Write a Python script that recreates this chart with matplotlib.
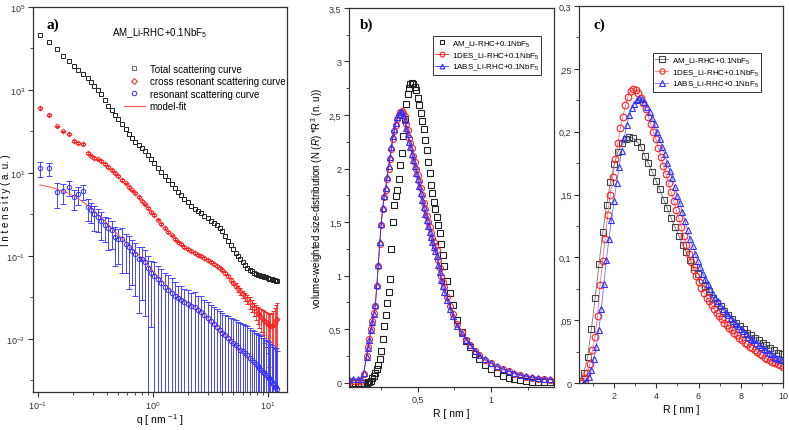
import numpy as np
import matplotlib
matplotlib.use('Agg')
import matplotlib.pyplot as plt
from matplotlib.lines import Line2D
from matplotlib.ticker import FixedLocator, FixedFormatter, MultipleLocator, NullFormatter

plt.rcParams['font.family'] = ['Liberation Sans', 'DejaVu Sans']
plt.rcParams['mathtext.fontset'] = 'custom'
plt.rcParams['mathtext.rm'] = 'Liberation Sans'
plt.rcParams['mathtext.it'] = 'Liberation Sans:italic'

##############################################################################################################################
# a) scattering curves

q_a = [0.104, 0.125, 0.145, 0.165, 0.185, 0.205, 0.225, 0.245, 0.27, 0.29,
       0.31, 0.33, 0.35, 0.38, 0.41, 0.44, 0.47, 0.5, 0.54, 0.58,
       0.62, 0.66, 0.7, 0.75, 0.8, 0.85, 0.9, 0.96, 1.02, 1.1,
       1.18, 1.26, 1.35, 1.45, 1.55, 1.65, 1.75, 1.87, 2.0, 2.15,
       2.3, 2.45, 2.6, 2.8, 3.0, 3.2, 3.4, 3.6, 3.8, 4.0,
       4.25, 4.5, 4.75, 5.0, 5.25, 5.5, 5.75, 6.0, 6.3, 6.6,
       6.9, 7.2, 7.5, 7.8, 8.1, 8.4, 8.7, 9.0, 9.3, 9.6,
       9.9, 10.2, 10.5, 10.8, 11.1, 11.4, 11.7, 12.0]

total_curve = [21000, 14000, 9500, 6700, 5000, 3800, 3000, 2400, 1900, 1550,
               1250, 1000, 800, 580, 420, 320, 250, 200, 150, 112,
               85, 68, 56, 47, 40, 33, 27, 21, 17, 13,
               10.5, 8.5, 6.8, 5.3, 4.2, 3.5, 2.9, 2.4, 1.95, 1.6,
               1.35, 1.18, 1.05, 0.92, 0.8, 0.7, 0.62, 0.54, 0.46, 0.39,
               0.30, 0.23, 0.18, 0.145, 0.12, 0.098, 0.082, 0.07, 0.06, 0.052,
               0.046, 0.042, 0.039, 0.037, 0.035, 0.034, 0.033, 0.032, 0.031, 0.030,
               0.029, 0.028, 0.027, 0.027, 0.026, 0.026, 0.025, 0.025]

cross_curve = [365, 250, 132, 100, 88, 58, 53, 50, 30, 26,
               23, 21, 19, 16.5, 14, 11.8, 10, 8.5, 6.8, 5.6,
               4.6, 3.8, 3.2, 2.6, 2.1, 1.75, 1.45, 1.15, 0.95, 0.74,
               0.58, 0.47, 0.38, 0.31, 0.26, 0.22, 0.19, 0.165, 0.145, 0.128,
               0.115, 0.105, 0.097, 0.088, 0.080, 0.071, 0.064, 0.058, 0.051, 0.045,
               0.038, 0.032, 0.026, 0.022, 0.019, 0.016, 0.0138, 0.012, 0.0105, 0.0090,
               0.0076, 0.0064, 0.0055, 0.0047, 0.0041, 0.0037, 0.0033, 0.0030, 0.0027, 0.0025,
               0.0023, 0.0021, 0.0020, 0.0020, 0.0021, 0.0024, 0.0028, 0.0030]

cross_err_rel = [0.04, 0.04, 0.05, 0.04, 0.05, 0.04, 0.05, 0.04, 0.05, 0.04,
                 0.05, 0.04, 0.05, 0.04, 0.05, 0.04, 0.05, 0.04, 0.05, 0.04,
                 0.05, 0.04, 0.05, 0.04, 0.05, 0.04, 0.05, 0.04, 0.05, 0.04,
                 0.05, 0.04, 0.05, 0.04, 0.05, 0.04, 0.05, 0.04, 0.05, 0.05,
                 0.05, 0.05, 0.05, 0.05, 0.05, 0.06, 0.06, 0.06, 0.07, 0.07,
                 0.08, 0.1, 0.1, 0.12, 0.14, 0.15, 0.18, 0.2, 0.22, 0.25,
                 0.3, 0.32, 0.35, 0.4, 0.45, 0.5, 0.55, 0.6, 0.7, 0.75,
                 0.8, 0.9, 1.0, 1.1, 1.2, 1.3, 1.3, 1.4]

resonant_curve = [13, 13, 3.5, 3.6, 4.5, 2.6, 3.1, 3.6, 1.5, 1.25,
                  1.0, 0.85, 0.7, 0.55, 0.47, 0.41, 0.28, 0.26, 0.25, 0.19,
                  0.16, 0.13, 0.11, 0.085, 0.085, 0.07, 0.05, 0.038, 0.033, 0.028,
                  0.022, 0.018, 0.015, 0.013, 0.011, 0.0095, 0.0085, 0.0075, 0.0068, 0.0062,
                  0.0058, 0.005, 0.0045, 0.0037, 0.0031, 0.0027, 0.0023, 0.0019, 0.0016, 0.0014,
                  0.0012, 0.00105, 0.0009, 0.0008, 0.0007, 0.00062, 0.00055, 0.0005, 0.00045, 0.0004,
                  0.00035, 0.0003, 0.00027, 0.00024, 0.00022, 0.0002, 0.00018, 0.00016, 0.00015, 0.00013,
                  0.00012, 0.00011, 0.0001, 0.00009, 0.00008, 0.00007, 0.00007, 0.00006]

resonant_err_rel = [0.4, 0.35, 0.6, 0.5, 0.4, 0.5, 0.45, 0.4, 0.55, 0.5,
                    0.6, 0.55, 0.65, 0.6, 0.7, 0.65, 0.8, 0.75, 0.85, 0.8,
                    0.9, 0.85, 0.9, 0.95, 0.9, 0.95, 1.0, 0.95, 1.1, 1.0,
                    1.2, 1.1, 1.3, 1.2, 1.1, 1.0, 1.2, 1.1, 1.2, 1.1,
                    1.3, 1.2, 1.4, 1.3, 1.5, 1.4, 1.6, 1.7, 1.9, 2.0,
                    2.2, 2.4, 2.6, 2.8, 3.0, 3.2, 3.4, 3.6, 3.8, 4.0,
                    4.2, 4.4, 4.6, 4.8, 5.0, 5.2, 5.4, 5.6, 5.8, 6.0,
                    6.2, 6.4, 6.6, 6.8, 7.0, 7.2, 7.4, 7.6]

model_fit = [5.1, 4.6, 4.1, 3.6, 3.2, 2.75, 2.35, 2.0, 1.65, 1.4,
             1.2, 1.02, 0.88, 0.70, 0.56, 0.46, 0.38, 0.32, 0.26, 0.21,
             0.17, 0.145, 0.125, 0.105, 0.088, 0.073, 0.061, 0.049, 0.040, 0.032,
             0.026, 0.022, 0.018, 0.015, 0.0128, 0.011, 0.0097, 0.0084, 0.0074, 0.0065,
             0.0057, 0.0050, 0.0044, 0.0037, 0.0031, 0.0026, 0.0022, 0.0019, 0.00165, 0.00145,
             0.00125, 0.00105, 0.0009, 0.00078, 0.00067, 0.00058, 0.0005, 0.00044, 0.00039, 0.00034,
             0.0003, 0.00027, 0.00024, 0.00022, 0.0002, 0.00018, 0.00016, 0.000145, 0.00013, 0.000118,
             0.000107, 0.000097, 0.000088, 0.00008, 0.000073, 0.000066, 0.00006, 0.000055]

##############################################################################################################################
# b) size distributions, fine grid

R_b = [0.03, 0.06, 0.09, 0.11, 0.13, 0.15, 0.16, 0.17, 0.18, 0.19,
       0.20, 0.21, 0.22, 0.23, 0.24, 0.25, 0.26, 0.27, 0.28, 0.29,
       0.30, 0.31, 0.32, 0.33, 0.34, 0.35, 0.36, 0.37, 0.38, 0.39,
       0.40, 0.41, 0.42, 0.43, 0.44, 0.45, 0.46, 0.47, 0.48, 0.49,
       0.50, 0.51, 0.52, 0.53, 0.54, 0.55, 0.56, 0.57, 0.58, 0.59,
       0.60, 0.61, 0.62, 0.63, 0.64, 0.65, 0.66, 0.67, 0.68, 0.70,
       0.72, 0.74, 0.77, 0.80, 0.83, 0.86, 0.89, 0.92, 0.96, 1.00,
       1.04, 1.08, 1.12, 1.16, 1.20, 1.24, 1.28, 1.32, 1.36, 1.40]

am_b = [0.0, 0.0, 0.0, 0.0, 0.0, 0.0, 0.005, 0.01, 0.02, 0.04,
        0.06, 0.09, 0.13, 0.17, 0.22, 0.30, 0.41, 0.53, 0.63, 0.74,
        0.85, 0.97, 1.25, 1.50, 1.66, 1.74, 1.80, 1.90, 2.03, 2.15,
        2.30, 2.46, 2.60, 2.70, 2.75, 2.79, 2.80, 2.79, 2.76, 2.73,
        2.66, 2.59, 2.52, 2.44, 2.37, 2.27, 2.17, 2.06, 1.96, 1.85,
        1.77, 1.69, 1.62, 1.55, 1.47, 1.40, 1.30, 1.19, 1.09, 0.95,
        0.84, 0.73, 0.59, 0.47, 0.39, 0.33, 0.27, 0.22, 0.17, 0.13,
        0.095, 0.065, 0.045, 0.032, 0.022, 0.015, 0.010, 0.007, 0.005, 0.003]

des_b = [0.02, 0.02, 0.02, 0.02, 0.08, 0.25, 0.33, 0.41, 0.50, 0.58,
         0.65, 0.72, 0.90, 1.09, 1.30, 1.47, 1.62, 1.73, 1.80, 1.90,
         2.00, 2.09, 2.18, 2.28, 2.35, 2.41, 2.46, 2.50, 2.53, 2.54,
         2.52, 2.49, 2.42, 2.36, 2.29, 2.24, 2.19, 2.12, 2.06, 2.00,
         1.94, 1.88, 1.82, 1.75, 1.68, 1.62, 1.56, 1.50, 1.45, 1.40,
         1.35, 1.31, 1.28, 1.24, 1.15, 1.07, 1.00, 0.94, 0.89, 0.80,
         0.72, 0.64, 0.55, 0.47, 0.40, 0.35, 0.30, 0.26, 0.21, 0.18,
         0.15, 0.13, 0.105, 0.085, 0.07, 0.056, 0.046, 0.039, 0.033, 0.028]

abs_b = [0.03, 0.03, 0.03, 0.03, 0.09, 0.24, 0.32, 0.40, 0.49, 0.57,
         0.64, 0.73, 0.91, 1.10, 1.31, 1.48, 1.63, 1.74, 1.82, 1.92,
         2.02, 2.11, 2.20, 2.30, 2.37, 2.43, 2.48, 2.51, 2.53, 2.53,
         2.50, 2.45, 2.38, 2.32, 2.25, 2.20, 2.14, 2.08, 2.02, 1.96,
         1.90, 1.84, 1.77, 1.71, 1.64, 1.58, 1.52, 1.46, 1.41, 1.36,
         1.31, 1.27, 1.23, 1.18, 1.10, 1.03, 0.96, 0.90, 0.85, 0.77,
         0.69, 0.62, 0.53, 0.46, 0.40, 0.35, 0.30, 0.26, 0.22, 0.185,
         0.155, 0.13, 0.11, 0.09, 0.075, 0.062, 0.052, 0.045, 0.039, 0.034]

##############################################################################################################################
# c) size distributions, wide R range

R_c_am = [0.39, 0.57, 0.75, 0.93, 1.11, 1.29, 1.47, 1.65, 1.83, 2.01,
          2.19, 2.37, 2.55, 2.73, 2.91, 3.09, 3.27, 3.45, 3.63, 3.81,
          3.99, 4.17, 4.35, 4.53, 4.71, 4.89, 5.07, 5.25, 5.43, 5.61,
          5.79, 5.97, 6.15, 6.33, 6.51, 6.69, 6.87, 7.05, 7.23, 7.41,
          7.59, 7.77, 7.95, 8.13, 8.31, 8.49, 8.67, 8.85, 9.03, 9.21,
          9.39, 9.57, 9.75, 9.93]
am_c = [0.002, 0.008, 0.021, 0.043, 0.068, 0.095, 0.120, 0.142, 0.160, 0.174,
        0.184, 0.191, 0.194, 0.196, 0.195, 0.192, 0.188, 0.181, 0.175, 0.168,
        0.161, 0.154, 0.146, 0.139, 0.131, 0.124, 0.117, 0.110, 0.104, 0.098,
        0.092, 0.087, 0.082, 0.077, 0.073, 0.068, 0.064, 0.061, 0.057, 0.054,
        0.051, 0.048, 0.045, 0.043, 0.040, 0.038, 0.036, 0.034, 0.032, 0.030,
        0.028, 0.026, 0.024, 0.023]

R_c_des = [0.50, 0.62, 0.74, 0.86, 0.98, 1.10, 1.22, 1.34, 1.46, 1.58,
           1.70, 1.82, 1.94, 2.06, 2.18, 2.30, 2.42, 2.54, 2.66, 2.78,
           2.90, 3.02, 3.14, 3.26, 3.38, 3.50, 3.62, 3.74, 3.86, 3.98,
           4.10, 4.22, 4.34, 4.46, 4.58, 4.70, 4.82, 4.94, 5.06, 5.18,
           5.30, 5.42, 5.54, 5.66, 5.78, 5.90, 6.02, 6.14, 6.26, 6.38,
           6.50, 6.62, 6.74, 6.86, 6.98, 7.10, 7.22, 7.34, 7.46, 7.58,
           7.70, 7.82, 7.94, 8.06, 8.18, 8.30, 8.42, 8.54, 8.66, 8.78,
           8.90, 9.02, 9.14, 9.26, 9.38, 9.50, 9.62, 9.74, 9.86, 9.98]
des_c = [0.0, 0.004, 0.008, 0.015, 0.026, 0.037, 0.053, 0.078, 0.097, 0.115,
         0.134, 0.150, 0.164, 0.178, 0.191, 0.203, 0.212, 0.221, 0.228, 0.232,
         0.234, 0.233, 0.231, 0.227, 0.223, 0.218, 0.212, 0.206, 0.200, 0.194,
         0.187, 0.180, 0.173, 0.166, 0.159, 0.152, 0.145, 0.138, 0.131, 0.124,
         0.117, 0.110, 0.103, 0.096, 0.090, 0.085, 0.080, 0.076, 0.072, 0.068,
         0.065, 0.062, 0.059, 0.056, 0.053, 0.051, 0.048, 0.046, 0.044, 0.042,
         0.040, 0.038, 0.036, 0.034, 0.032, 0.031, 0.029, 0.028, 0.026, 0.025,
         0.023, 0.022, 0.020, 0.019, 0.018, 0.017, 0.016, 0.015, 0.014, 0.013]

R_c_abs = [0.56, 0.68, 0.80, 0.92, 1.04, 1.16, 1.28, 1.40, 1.52, 1.64,
           1.76, 1.88, 2.00, 2.12, 2.24, 2.36, 2.48, 2.60, 2.72, 2.84,
           2.96, 3.08, 3.20, 3.32, 3.44, 3.56, 3.68, 3.80, 3.92, 4.04,
           4.16, 4.28, 4.40, 4.52, 4.64, 4.76, 4.88, 5.00, 5.12, 5.24,
           5.36, 5.48, 5.60, 5.72, 5.84, 5.96, 6.08, 6.20, 6.32, 6.44,
           6.56, 6.68, 6.80, 6.92, 7.04, 7.16, 7.28, 7.40, 7.52, 7.64,
           7.76, 7.88, 8.00, 8.12, 8.24, 8.36, 8.48, 8.60, 8.72, 8.84,
           8.96, 9.08, 9.20, 9.32, 9.44, 9.56, 9.68, 9.80, 9.92]
abs_c = [0.0, 0.002, 0.005, 0.010, 0.019, 0.029, 0.042, 0.059, 0.079, 0.098,
         0.115, 0.130, 0.145, 0.159, 0.172, 0.185, 0.195, 0.205, 0.213, 0.219,
         0.222, 0.225, 0.226, 0.226, 0.224, 0.220, 0.216, 0.211, 0.206, 0.200,
         0.194, 0.188, 0.182, 0.175, 0.169, 0.163, 0.156, 0.149, 0.143, 0.136,
         0.129, 0.122, 0.115, 0.109, 0.103, 0.097, 0.092, 0.087, 0.083, 0.079,
         0.075, 0.071, 0.068, 0.065, 0.062, 0.059, 0.056, 0.054, 0.052, 0.049,
         0.047, 0.045, 0.043, 0.041, 0.039, 0.037, 0.035, 0.034, 0.032, 0.030,
         0.029, 0.027, 0.026, 0.024, 0.023, 0.021, 0.020, 0.019, 0.018]

series_names = ['AM_Li-RHC+0.1NbF$_5$', '1DES_Li-RHC+0.1NbF$_5$', '1ABS_Li-RHC+0.1NbF$_5$']

b_yticks = [0, 0.5, 1, 1.5, 2, 2.5, 3, 3.5]
b_yticklabels = ['0', '0,5', '1', '1,5', '2', '2,5', '3', '3,5']
c_yticks = [0, 0.05, 0.1, 0.15, 0.2, 0.25, 0.3]
c_yticklabels = ['0', ',05', '0,1', ',15', '0,2', ',25', '0,3']

##############################################################################################################################

BLACK = '#222222'
RED = '#ff2020'
BLUE = '#3030ff'
FIT = '#ff6060'


def style_axis(ax):
    for s in ax.spines.values():
        s.set_color('#333333')
        s.set_linewidth(0.9)
    ax.tick_params(which='both', direction='out', labelsize=6.5, colors='#333333', pad=2)
    ax.tick_params(which='major', length=3.5)
    ax.tick_params(which='minor', length=2)


fig = plt.figure(figsize=(7.89, 4.31), dpi=100)
ax_a = fig.add_axes([0.0418, 0.0882, 0.3219, 0.8933])
ax_b = fig.add_axes([0.4423, 0.0998, 0.2598, 0.8794])
ax_c = fig.add_axes([0.7338, 0.109, 0.2586, 0.8747])

# ---- panel a
q = np.array(q_a)
ax_a.set_xscale('log')
ax_a.set_yscale('log')

ax_a.plot(q, total_curve, 's', ms=3.0, mfc='none', mec=BLACK, mew=0.7)

cross = np.array(cross_curve)
cross_err = cross * np.array(cross_err_rel)
ax_a.errorbar(q, cross, yerr=[np.minimum(cross_err, cross * 0.999), cross_err], fmt='D', ms=2.5,
              mfc='none', mec=RED, mew=0.7, ecolor=RED, elinewidth=0.6, capsize=1.5, capthick=0.6)

res = np.array(resonant_curve)
res_err = res * np.array(resonant_err_rel)
ax_a.errorbar(q, res, yerr=[np.minimum(res_err, res * 0.9999), res_err], fmt='o', ms=3.2,
              mfc='none', mec=BLUE, mew=0.7, ecolor='#4545ff', elinewidth=0.7, capsize=2.5, capthick=0.7)

ax_a.plot(q, model_fit, '-', color=FIT, lw=0.8)

ax_a.set_xlim(0.0905, 14.6)
ax_a.set_ylim(5.2e-5, 1e5)
ax_a.yaxis.set_major_locator(FixedLocator([1e-3, 1e-1, 1e1, 1e3, 1e5]))
ax_a.yaxis.set_minor_locator(FixedLocator([1e-4, 1e-2, 1e0, 1e2, 1e4]))
ax_a.yaxis.set_minor_formatter(NullFormatter())
style_axis(ax_a)
ax_a.set_ylabel('I n t e n s i t y ( a. u. )', fontsize=7)
ax_a.yaxis.set_label_coords(-0.088, 0.5)
ax_a.set_xlabel('q [ nm $^{-1}$ ]', fontsize=7.5)
ax_a.xaxis.set_label_coords(0.5, -0.05)

handles_a = [Line2D([], [], ls='none', marker='s', ms=3, mfc='none', mec='#666666', mew=0.7),
             Line2D([], [], ls='none', marker='D', ms=3, mfc='none', mec=RED, mew=0.7),
             Line2D([], [], ls='none', marker='o', ms=3.2, mfc='none', mec=BLUE, mew=0.7),
             Line2D([], [], color=FIT, lw=0.9)]
ax_a.legend(handles_a, ['Total scattering curve', 'cross resonant scattering curve',
                        'resonant scattering curve', 'model-fit'],
            loc='upper left', bbox_to_anchor=(0.33, 0.87), frameon=False, fontsize=7,
            handlelength=2.2, handletextpad=0.5, labelspacing=0.25, borderpad=0.2)
ax_a.text(0.50, 0.935, 'AM_Li-RHC+0.1NbF$_5$', transform=ax_a.transAxes, fontsize=7,
          ha='center', va='center')
ax_a.text(0.08, 0.956, 'a)', transform=ax_a.transAxes, fontsize=11, fontweight='bold',
          family='Liberation Serif', ha='center', va='center')

# ---- panel b
ax_b.plot(R_b, am_b, 's', ms=4.3, mfc='none', mec=BLACK, mew=0.8, label=series_names[0])
ax_b.plot(R_b, des_b, 'o-', ms=4.3, mfc='none', mec=RED, color=RED, lw=0.6, mew=0.8,
          label=series_names[1])
ax_b.plot(R_b, abs_b, '^-', ms=4.3, mfc='none', mec=BLUE, color=BLUE, lw=0.6, mew=0.8,
          label=series_names[2])
ax_b.set_xlim(0.03, 1.43)
ax_b.set_ylim(-0.04, 3.5)
ax_b.xaxis.set_major_locator(FixedLocator([0.5, 1.0]))
ax_b.xaxis.set_major_formatter(FixedFormatter(['0,5', '1']))
ax_b.xaxis.set_minor_locator(MultipleLocator(0.25))
ax_b.yaxis.set_major_locator(FixedLocator(b_yticks))
ax_b.yaxis.set_major_formatter(FixedFormatter(b_yticklabels))
ax_b.yaxis.set_minor_locator(MultipleLocator(0.25))
style_axis(ax_b)
ax_b.set_xlabel('R [ nm ]', fontsize=7.5, labelpad=3)
ax_b.set_ylabel('volume-weighted size-distribution (N ($R$) *R$^3$ (n. u))', fontsize=7, labelpad=3)
leg_b = ax_b.legend(loc='upper left', bbox_to_anchor=(0.41, 0.926), fontsize=5.8, fancybox=False,
                    edgecolor='#333333', framealpha=1, handlelength=1.6, handletextpad=0.4,
                    labelspacing=0.15, borderpad=0.3, borderaxespad=0, markerscale=0.8)
leg_b.get_frame().set_linewidth(0.7)
ax_b.text(0.088, 0.958, 'b)', transform=ax_b.transAxes, fontsize=11, fontweight='bold',
          family='Liberation Serif', ha='center', va='center')

# ---- panel c
ax_c.plot(R_c_am, am_c, 's-', ms=4.8, mfc='none', mec='#444444', color='#777777', lw=0.6, mew=0.8,
          label=series_names[0])
ax_c.plot(R_c_des, des_c, 'o-', ms=4.8, mfc='none', mec=RED, color='#ff7070', lw=0.6, mew=0.8,
          label=series_names[1])
ax_c.plot(R_c_abs, abs_c, '^-', ms=4.8, mfc='none', mec=BLUE, color='#7070ff', lw=0.6, mew=0.8,
          label=series_names[2])
ax_c.set_xlim(0.34, 10)
ax_c.set_ylim(0, 0.3)
ax_c.xaxis.set_major_locator(FixedLocator([2, 4, 6, 8, 10]))
ax_c.xaxis.set_minor_locator(MultipleLocator(1))
ax_c.yaxis.set_major_locator(FixedLocator(c_yticks))
ax_c.yaxis.set_major_formatter(FixedFormatter(c_yticklabels))
ax_c.yaxis.set_minor_locator(MultipleLocator(0.025))
style_axis(ax_c)
ax_c.set_xlabel('R [ nm ]', fontsize=7.5, labelpad=3)
leg_c = ax_c.legend(loc='upper left', bbox_to_anchor=(0.363, 0.875), fontsize=5.8, fancybox=False,
                    edgecolor='#333333', framealpha=1, handlelength=1.6, handletextpad=0.4,
                    labelspacing=0.15, borderpad=0.3, borderaxespad=0, markerscale=0.8)
leg_c.get_frame().set_linewidth(0.7)
ax_c.text(0.10, 0.952, 'c)', transform=ax_c.transAxes, fontsize=11, fontweight='bold',
          family='Liberation Serif', ha='center', va='center')

plt.savefig('out.png', dpi=100)
